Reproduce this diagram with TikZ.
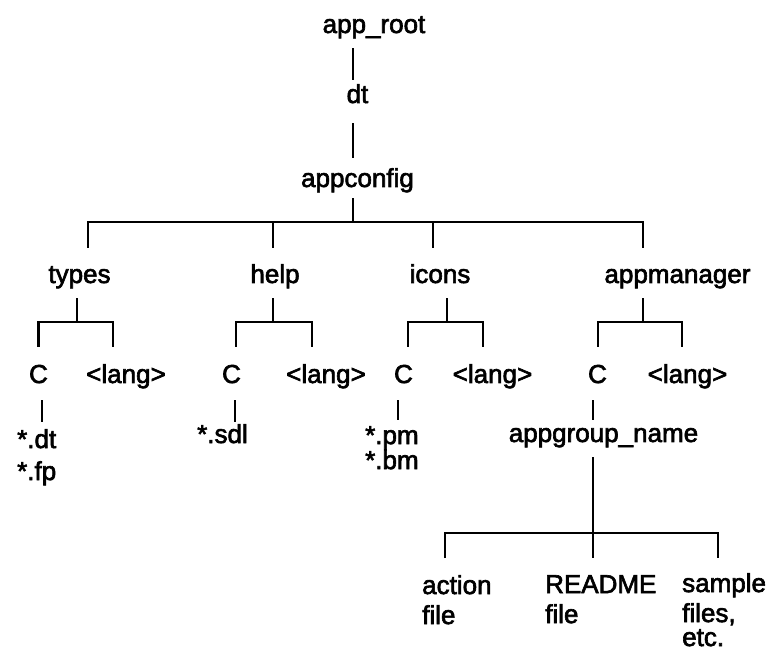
\documentclass[tikz,border=0pt]{standalone}
\usepackage{fontspec}
\setmainfont[FakeBold=2.4]{Liberation Sans}
\usepackage{tikz}
\tikzstyle{dirname} = [font=\fontsize{26}{30}\selectfont, inner sep=0pt, text height=19pt, text depth=6pt, anchor=base]
\tikzstyle{dirlist} = [font=\fontsize{26}{30}\selectfont, inner sep=0pt, align=left, anchor=north west]
\tikzstyle{treeline} = [line width=2.8pt]

\begin{document}
\begin{tikzpicture}[x=1pt,y=1pt]
\useasboundingbox (0,0) rectangle (769,-652);
% top of the tree
\node[dirname] (approot) at (374,-33) {app\_root};
\node[dirname] (dt) at (357.5,-103) {dt};
\node[dirname] (appconfig) at (357.5,-187) {appconfig};
% subdirectories of appconfig
\node[dirname] (types) at (79.5,-283) {types};
\node[dirname] (help) at (275,-283) {help};
\node[dirname] (icons) at (440,-283) {icons};
\node[dirname] (appmanager) at (677.5,-283) {appmanager};
% locale directories
\node[dirname] (typesC) at (38.5,-383) {C};
\node[dirname] (typeslang) at (126,-383) {<lang>};
\node[dirname] (helpC) at (231.5,-383) {C};
\node[dirname] (helplang) at (326,-383) {<lang>};
\node[dirname] (iconsC) at (403.5,-383) {C};
\node[dirname] (iconslang) at (492.5,-383) {<lang>};
\node[dirname] (mgrC) at (597.5,-383) {C};
\node[dirname] (mgrlang) at (687.5,-383) {<lang>};
% contents
\node[dirlist] (typesfiles) at (17,-429) {*.dt\\[2pt]*.fp};
\node[dirname, anchor=base west] (helpfiles) at (197,-443) {*.sdl};
\node[dirlist] (iconsfiles) at (365,-426) {*.pm\\[-5pt]*.bm};
\node[dirname] (appgroup) at (603.5,-442) {appgroup\_name};
\node[dirlist] (action) at (422,-575) {action\\file};
\node[dirlist] (readme) at (545,-575) {README\\file};
\node[dirlist] (sample) at (682,-573) {sample\\files,\\[-6pt]etc.};

% junctions
\coordinate (cfgbar) at (353,-222);
\coordinate (typesdrop) at (88,-222);
\coordinate (helpdrop) at (273,-222);
\coordinate (iconsdrop) at (433,-222);
\coordinate (mgrdrop) at (643,-222);
\coordinate (typesbar) at (77,-322);
\coordinate (typeslangj) at (113,-322);
\coordinate (helpbar) at (273,-322);
\coordinate (helpCj) at (236,-322);
\coordinate (helplangj) at (312,-322);
\coordinate (iconsbar) at (447,-322);
\coordinate (iconsCj) at (408,-322);
\coordinate (iconslangj) at (483,-322);
\coordinate (mgrbar) at (643,-322);
\coordinate (mgrCj) at (598,-322);
\coordinate (mgrlangj) at (682,-322);
\coordinate (groupbar) at (593,-533);
\coordinate (actionj) at (445,-533);
\coordinate (samplej) at (718,-533);

% app_root -- dt -- appconfig
\draw[treeline, shorten <=9pt, shorten >=4pt] (approot.south -| cfgbar) -- (dt.north -| cfgbar);
\draw[treeline, shorten <=14pt, shorten >=10pt] (dt.south -| cfgbar) -- (appconfig.north -| cfgbar);
\draw[treeline, shorten <=5pt] (appconfig.south -| cfgbar) -- (cfgbar);
\draw[treeline, shorten <=16pt, shorten >=16pt] (typesdrop |- types.north) -- (typesdrop) -- (mgrdrop) -- (mgrdrop |- appmanager.north);
\draw[treeline, shorten >=16pt] (helpdrop) -- (helpdrop |- help.north);
\draw[treeline, shorten >=16pt] (iconsdrop) -- (iconsdrop |- icons.north);

% types, help, icons, appmanager
\draw[treeline, shorten <=9pt] (types.south -| typesbar) -- (typesbar);
\draw[treeline, shorten <=17pt, shorten >=17pt] (typesC.north) |- (typeslangj) -- (typeslangj |- typeslang.north);
\draw[treeline, shorten <=9pt] (help.south -| helpbar) -- (helpbar);
\draw[treeline, shorten <=17pt, shorten >=17pt] (helpCj |- helpC.north) -- (helpCj) -- (helplangj) -- (helplangj |- helplang.north);
\draw[treeline, shorten <=9pt] (icons.south -| iconsbar) -- (iconsbar);
\draw[treeline, shorten <=17pt, shorten >=17pt] (iconsCj |- iconsC.north) -- (iconsCj) -- (iconslangj) -- (iconslangj |- iconslang.north);
\draw[treeline, shorten <=9pt] (appmanager.south -| mgrbar) -- (mgrbar);
\draw[treeline, shorten <=17pt, shorten >=17pt] (mgrCj |- mgrC.north) -- (mgrCj) -- (mgrlangj) -- (mgrlangj |- mgrlang.north);

% C directories
\draw[treeline] (typesC.south) ++(3.5,-11) -- ++(0,-22);
\draw[treeline] (helpC.south) ++(3.5,-11) -- ++(0,-22);
\draw[treeline] (iconsC.south) ++(-5.5,-11) -- ++(0,-20);
\draw[treeline] (mgrC.south) ++(-4.5,-11) -- ++(0,-20);

% appgroup_name
\draw[treeline, shorten <=9pt, shorten >=17pt] (appgroup.south -| groupbar) -- (groupbar |- readme.north);
\draw[treeline, shorten <=17pt, shorten >=17pt] (actionj |- action.north) -- (actionj) -- (samplej) -- (samplej |- action.north);
\end{tikzpicture}
\end{document}
